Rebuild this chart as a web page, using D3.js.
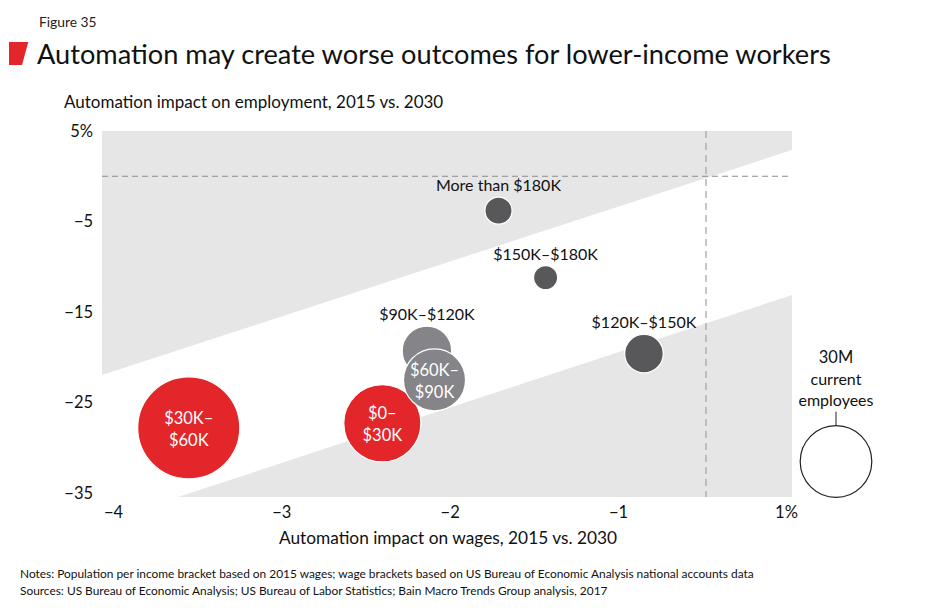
<!DOCTYPE html>
<html>
<head>
<meta charset="utf-8">
<script src="https://cdn.jsdelivr.net/npm/d3@7"></script>
<style>
  body { margin: 0; background: #fff; }
  svg { font-family: Lato, 'Open Sans', sans-serif; }
</style>
</head>
<body>
<div id="chart"></div>
<script>
// income brackets
const brackets = ['$30K–$60K', '$0–$30K', '$90K–$120K', '$60K–$90K', '$120K–$150K', '$150K–$180K', 'More than $180K'];
const wageImpact = [-3.55, -2.40, -2.135, -2.09, -0.705, -1.43, -1.71];
const employmentImpact = [-27.8, -27.3, -19.3, -22.5, -19.6, -11.2, -3.8];
const workersM = [61, 34.8, 14.3, 22.5, 8.7, 3.4, 4.3];
const bracketColor = ['#e2262a', '#e2262a', '#848489', '#848489', '#58585b', '#58585b', '#58585b'];
const labelInside = [true, true, false, true, false, false, false];

const xTicks = [-4, -3, -2, -1, 1];
const yTicks = [5, -5, -15, -25, -35];

// shaded bands: edge points in data units
const upperBand = [[-4.065, 5], [1.075, 5], [1.075, 2.9], [-4.065, -21.96]];
const lowerBand = [[-3.614, -35.45], [1.075, -13.12], [1.075, -35.45]];
const legendValue = 30;

const W = 950, H = 615;
const svg = d3.select('#chart').append('svg')
  .attr('width', W)
  .attr('height', H);

// x axis is broken after -1 in the original (−1 to 1 squeezed)
const x = d3.scaleLinear().domain([-4, -1, 0, 1]).range([113, 618, 706, 786]);
const y = d3.scaleLinear().domain([5, -35]).range([131, 493]);
const r = d3.scaleSqrt().domain([0, 30]).range([0, 35.8]);

const xMin = -4.065, xMax = 1.075, yMin = -35.45, yMax = 5;

// header
svg.append('text')
  .attr('x', 39).attr('y', 27)
  .style('font-size', '13.8px').style('fill', '#222')
  .text('Figure 35');

svg.append('path')
  .attr('d', 'M9,42L28.3,42L22,65L9,65Z')
  .style('fill', '#e2262a');

svg.append('text')
  .attr('x', 37).attr('y', 64)
  .style('font-size', '27.2px').style('fill', '#111')
  .text('Automation may create worse outcomes for lower-income workers');

svg.append('text')
  .attr('x', 64).attr('y', 108)
  .style('font-size', '17px').style('fill', '#111')
  .text('Automation impact on employment, 2015 vs. 2030');

// bands
const line = d3.line().x(d => x(d[0])).y(d => y(d[1]));
svg.append('path')
  .attr('d', line(upperBand) + 'Z')
  .style('fill', '#e6e6e6');
svg.append('path')
  .attr('d', line(lowerBand) + 'Z')
  .style('fill', '#e6e6e6');

// zero lines
svg.append('line')
  .attr('x1', x(xMin)).attr('x2', x(xMax))
  .attr('y1', y(0)).attr('y2', y(0))
  .style('stroke', '#8a8a8a').style('stroke-width', 1)
  .style('stroke-dasharray', '6,4');
svg.append('line')
  .attr('x1', x(0)).attr('x2', x(0))
  .attr('y1', y(yMax)).attr('y2', y(yMin))
  .style('stroke', '#a8a8a8').style('stroke-width', 1.3)
  .style('stroke-dasharray', '7,5');

// axes (labels only)
const axisX = d3.axisBottom(x).tickValues(xTicks).tickSize(0)
  .tickFormat(d => d === 1 ? '1%' : d3.format('d')(d));
const gx = svg.append('g')
  .attr('transform', `translate(0, ${y(yMin) + 6})`)
  .call(axisX);
gx.select('.domain').remove();
gx.selectAll('text')
  .style('font-family', 'Lato, sans-serif')
  .style('font-size', '16.5px')
  .style('fill', '#111');

const axisY = d3.axisLeft(y).tickValues(yTicks).tickSize(0)
  .tickFormat(d => d === 5 ? '5%' : d3.format('d')(d));
const gy = svg.append('g')
  .attr('transform', `translate(${x(xMin) - 6}, 0)`)
  .call(axisY);
gy.select('.domain').remove();
gy.selectAll('text')
  .style('font-family', 'Lato, sans-serif')
  .style('font-size', '16.5px')
  .style('fill', '#111');

svg.append('text')
  .attr('x', 448).attr('y', 544)
  .attr('text-anchor', 'middle')
  .style('font-size', '17.3px').style('fill', '#111')
  .text('Automation impact on wages, 2015 vs. 2030');

// bubbles
const data = brackets.map((b, i) => ({
  name: b,
  wage: wageImpact[i],
  emp: employmentImpact[i],
  pop: workersM[i],
  color: bracketColor[i],
  inside: labelInside[i]
}));

const dots = svg.selectAll('.dot')
  .data(data)
  .enter()
  .append('g')
  .attr('class', 'dot');

dots.append('circle')
  .attr('cx', d => x(d.wage))
  .attr('cy', d => y(d.emp))
  .attr('r', d => r(d.pop))
  .style('fill', d => d.color)
  .style('stroke', '#fff')
  .style('stroke-width', 1.2);

// labels above the small bubbles
dots.filter(d => !d.inside)
  .append('text')
  .attr('x', d => x(d.wage))
  .attr('y', d => y(d.emp) - r(d.pop) - 6)
  .attr('text-anchor', 'middle')
  .style('font-size', '16px')
  .style('fill', '#111')
  .text(d => d.name);

// two-line labels inside the big ones
const inner = dots.filter(d => d.inside)
  .append('text')
  .attr('text-anchor', 'middle')
  .style('font-size', '16.5px')
  .style('fill', '#fff');
inner.append('tspan')
  .attr('x', d => x(d.wage))
  .attr('y', d => y(d.emp) - 4)
  .text(d => d.name.split('–')[0] + '–');
inner.append('tspan')
  .attr('x', d => x(d.wage))
  .attr('y', d => y(d.emp) + 18)
  .text(d => d.name.split('–')[1]);

// size legend
const lx = 836, ly = 461.5;
const legend = svg.append('g');
legend.append('circle')
  .attr('cx', lx).attr('cy', ly)
  .attr('r', r(legendValue))
  .style('fill', '#fff')
  .style('stroke', '#222')
  .style('stroke-width', 1.2);
legend.append('line')
  .attr('x1', lx).attr('x2', lx)
  .attr('y1', ly - r(legendValue) - 14).attr('y2', ly - r(legendValue))
  .style('stroke', '#222').style('stroke-width', 1);
legend.append('text')
  .attr('x', lx).attr('y', 363)
  .attr('text-anchor', 'middle')
  .style('font-size', '16.5px').style('fill', '#111')
  .text(legendValue + 'M');
['current', 'employees'].forEach((t, i) => {
  legend.append('text')
    .attr('x', lx).attr('y', 385 + i * 21)
    .attr('text-anchor', 'middle')
    .style('font-size', '16px').style('fill', '#111')
    .text(t);
});

// notes
svg.append('text')
  .attr('x', 20).attr('y', 578)
  .style('font-size', '11.9px').style('fill', '#111')
  .text('Notes: Population per income bracket based on 2015 wages; wage brackets based on US Bureau of Economic Analysis national accounts data');
svg.append('text')
  .attr('x', 20).attr('y', 595)
  .style('font-size', '11.9px').style('fill', '#111')
  .text('Sources: US Bureau of Economic Analysis; US Bureau of Labor Statistics; Bain Macro Trends Group analysis, 2017');
</script>
</body>
</html>
